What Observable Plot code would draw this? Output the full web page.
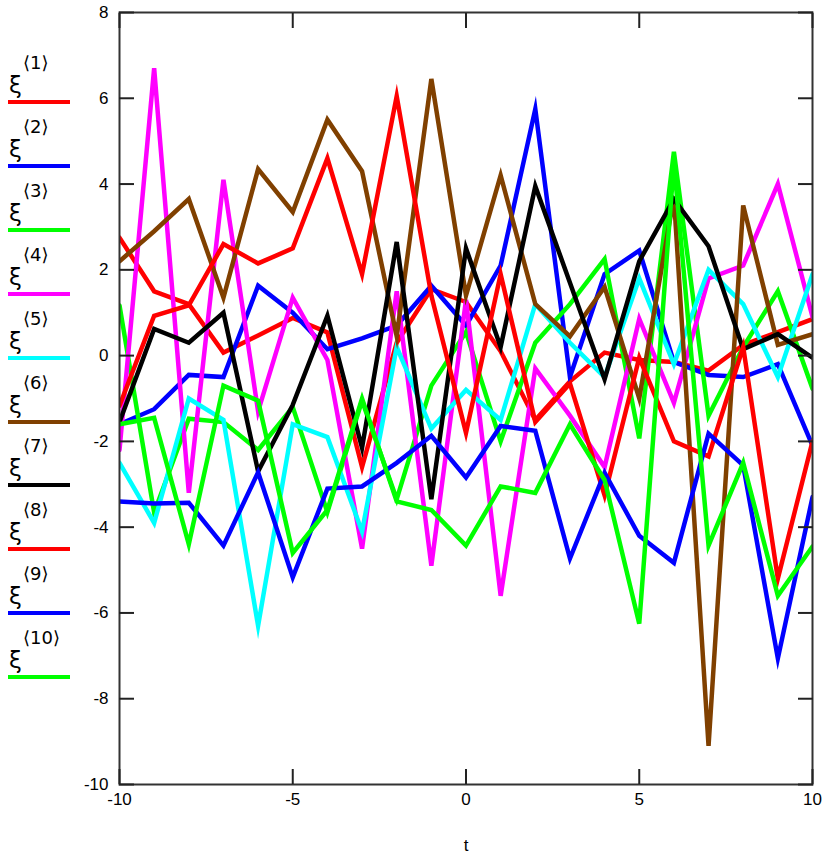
<!DOCTYPE html>
<html><head><meta charset="utf-8">
<script src="https://cdn.jsdelivr.net/npm/d3@7"></script>
<script src="https://cdn.jsdelivr.net/npm/@observablehq/plot@0.6"></script>
<style>
body{margin:0;background:#fff;}
#wrap{position:relative;width:831px;height:856px;}
#legend{position:absolute;left:0;top:0;}
.entry{position:absolute;left:8px;width:72px;height:50px;font-family:"DejaVu Sans",sans-serif;color:#000;}
.xi{position:absolute;left:1px;top:16px;font-size:23px;line-height:26px;}
.sup{position:absolute;left:15px;top:-4px;font-size:18px;line-height:22px;}
.swatch{position:absolute;left:0;top:44px;width:62px;height:4px;}
</style></head><body><div id="wrap"><div id="legend"></div></div>
<script>
const t = [-10,-9,-8,-7,-6,-5,-4,-3,-2,-1,0,1,2,3,4,5,6,7,8,9,10];
const s1 = [2.75,1.5,1.2,0.07,0.47,0.88,0.54,-2.6,0.3,1.55,1.25,0.1,-1.5,-0.6,0.07,-0.1,-0.15,-0.35,0.25,0.55,0.85];
const s2 = [-1.6,-1.25,-0.45,-0.5,1.63,1.0,0.15,0.4,0.7,1.63,0.7,2.1,5.75,-0.5,1.9,2.45,-0.15,-0.45,-0.5,-0.2,-2.1];
const s3 = [1.17,-3.66,-1.47,-1.55,-2.2,-1.2,-3.65,-1.05,-3.35,-0.7,0.55,-2.0,0.3,1.2,2.25,-1.93,4.75,-1.4,0.2,1.5,-0.77];
const s4 = [-2.2,6.7,-3.2,4.1,-1.3,1.35,-0.1,-4.5,1.5,-4.9,1.3,-5.6,-0.3,-1.4,-2.6,0.86,-1.1,1.8,2.1,4.0,0.9];
const s5 = [-2.5,-3.9,-1.0,-1.5,-6.3,-1.6,-1.9,-4.1,0.2,-1.7,-0.8,-1.5,1.2,0.3,-0.5,1.8,-0.2,2.0,1.2,-0.5,1.9];
const s6 = [2.2,2.9,3.65,1.35,4.35,3.35,5.5,4.3,0.45,6.45,1.4,4.2,1.2,0.45,1.6,-1.0,3.7,-9.1,3.5,0.25,0.5];
const s7 = [-1.55,0.62,0.3,1.0,-2.7,-1.15,0.93,-2.15,2.65,-3.35,2.5,0.2,3.95,1.7,-0.55,2.2,3.65,2.55,0.15,0.5,-0.05];
const s8 = [-1.17,0.93,1.17,2.6,2.15,2.5,4.6,1.9,6.05,1.4,-1.8,1.9,-1.55,-0.65,-3.26,-0.05,-2.0,-2.35,0.2,-5.2,-2.0];
const s9 = [-3.4,-3.45,-3.43,-4.43,-2.72,-5.17,-3.1,-3.05,-2.5,-1.87,-2.84,-1.64,-1.75,-4.73,-2.73,-4.2,-4.83,-1.82,-2.56,-7.06,-3.3];
const s10 = [-1.6,-1.45,-4.4,-0.7,-1.05,-4.6,-3.6,-1.0,-3.4,-3.6,-4.43,-3.05,-3.2,-1.6,-2.9,-6.25,4.5,-4.43,-2.5,-5.6,-4.45];
const seriesNames = ["1","2","3","4","5","6","7","8","9","10"];
const seriesColors = ["#ff0000","#0000ff","#00ff00","#ff00ff","#00ffff","#804000","#000000","#ff0000","#0000ff","#00ff00"];
const xTicks = [-10,-5,0,5,10];
const yTicks = [-10,-8,-6,-4,-2,0,2,4,6,8];
const xLabel = "t";

const allSeries = [s1,s2,s3,s4,s5,s6,s7,s8,s9,s10];
const lineMarks = allSeries.map((s, k) => Plot.line(t.map((tt, i) => ({t: tt, v: s[i]})), {
  x: "t", y: "v", stroke: seriesColors[k], strokeWidth: 4.5,
  strokeLinejoin: "miter", strokeMiterlimit: 6, clip: true
}));

const fmt = d => String(d);
const tickStyle = {tickFormat: () => "", label: null, tickSize: 15, strokeWidth: 2, stroke: "#222"};
const chart = Plot.plot({
  width: 831, height: 856,
  marginLeft: 119, marginRight: 19, marginTop: 12, marginBottom: 72,
  x: {domain: [-10, 10]},
  y: {domain: [-10, 8]},
  style: {fontFamily: "'Liberation Sans', Arial, sans-serif", fontSize: "17px", color: "#000", background: "#fff"},
  marks: [
    ...lineMarks,
    Plot.frame({stroke: "#333", strokeWidth: 2}),
    Plot.axisX({ticks: xTicks, anchor: "bottom", dy: -15, ...tickStyle}),
    Plot.axisX({ticks: xTicks, anchor: "top", dy: 15, ...tickStyle}),
    Plot.axisY({ticks: yTicks, anchor: "left", dx: 15, ...tickStyle}),
    Plot.axisY({ticks: yTicks, anchor: "right", dx: -15, ...tickStyle}),
    Plot.axisX({ticks: xTicks, anchor: "bottom", tickSize: 0, tickPadding: 8, tickFormat: fmt, fontSize: 17,
      label: xLabel, labelAnchor: "center", labelOffset: 66, labelArrow: "none"}),
    Plot.axisY({ticks: yTicks, anchor: "left", tickSize: 0, tickPadding: 11, tickFormat: fmt, fontSize: 17, label: null})
  ]
});
document.getElementById("wrap").prepend(chart);

const legend = document.getElementById("legend");
seriesNames.forEach((n, i) => {
  const e = document.createElement("div");
  e.className = "entry";
  e.style.top = (56 + 63.9 * i) + "px";
  e.innerHTML = `<span class="xi">ξ</span><span class="sup">⟨${n}⟩</span><div class="swatch" style="background:${seriesColors[i]}"></div>`;
  legend.appendChild(e);
});
</script></body></html>
